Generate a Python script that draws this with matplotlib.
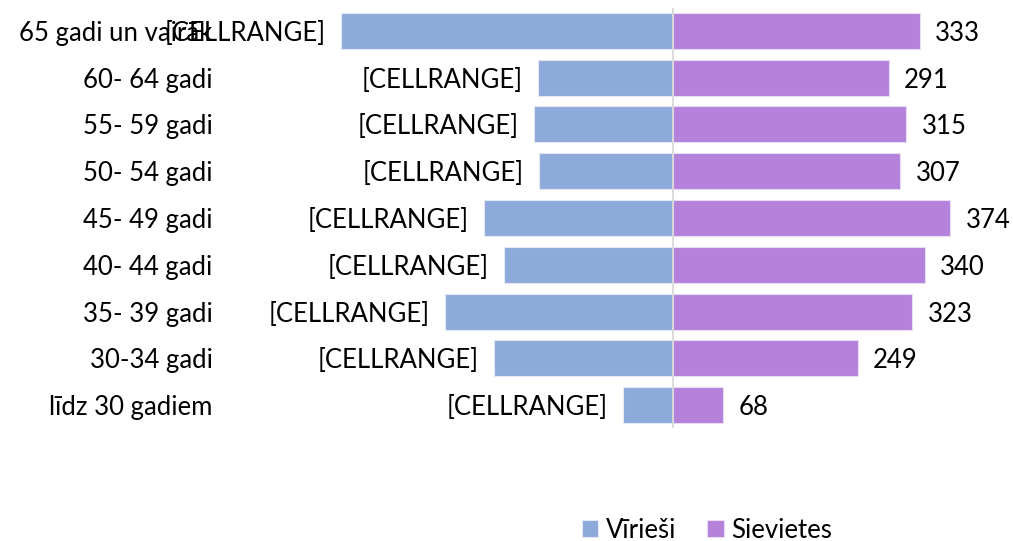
import matplotlib
matplotlib.use("Agg")
import matplotlib.pyplot as plt
import numpy as np

plt.rcParams['font.family'] = ['Lato', 'DejaVu Sans']

# vecuma grupas (no augšas uz leju)
groups = ["65 gadi un vairāk", "60- 64 gadi", "55- 59 gadi", "50- 54 gadi",
          "45- 49 gadi", "40- 44 gadi", "35- 39 gadi", "30-34 gadi",
          "līdz 30 gadiem"]
men = [448, 182, 187, 181, 255, 228, 308, 242, 68]
women = [333, 291, 315, 307, 374, 340, 323, 249, 68]
men_labels = ["[CELLRANGE]"] * len(groups)

fs = 18.5
fig = plt.figure(figsize=(10.13, 5.41), dpi=100)
ax = fig.add_axes([225 / 1013, 1 - 428.4 / 541, 775 / 1013, 420.8 / 541])

y = np.arange(len(groups))
b1 = ax.barh(y, [-v for v in men], height=0.77, color="#8EAADB",
             edgecolor="#E3EAF6", linewidth=0.8, label="Vīrieši")
b2 = ax.barh(y, women, height=0.77, color="#B482DA",
             edgecolor="#EADCF5", linewidth=0.8, label="Sievietes")
t1 = ax.bar_label(b1, labels=men_labels, padding=11, fontsize=fs)
t2 = ax.bar_label(b2, padding=11, fontsize=fs)
# lai etiķetes būtu vienā līmenī ar kategoriju nosaukumiem
for t in t1 + t2:
    t.set_va("center_baseline")

ax.axvline(0, color="#D9D9D9", lw=1.3, zorder=3)

ax.set_xlim(-(673 - 225) / 0.741, (1000 - 673) / 0.741)
ax.set_ylim(len(groups) - 0.5, -0.5)
ax.set_yticks(y)
ax.set_yticklabels(groups, fontsize=fs)
ax.tick_params(axis="y", length=0, pad=9)
ax.set_xticks([])
for s in ax.spines.values():
    s.set_visible(False)

fig.legend(loc="center", bbox_to_anchor=(707 / 1013, 11 / 541), ncol=2,
           frameon=False, fontsize=fs, handlelength=0.65, handleheight=0.65,
           handletextpad=0.3, columnspacing=1.2)

fig.savefig("out.png", dpi=100)
